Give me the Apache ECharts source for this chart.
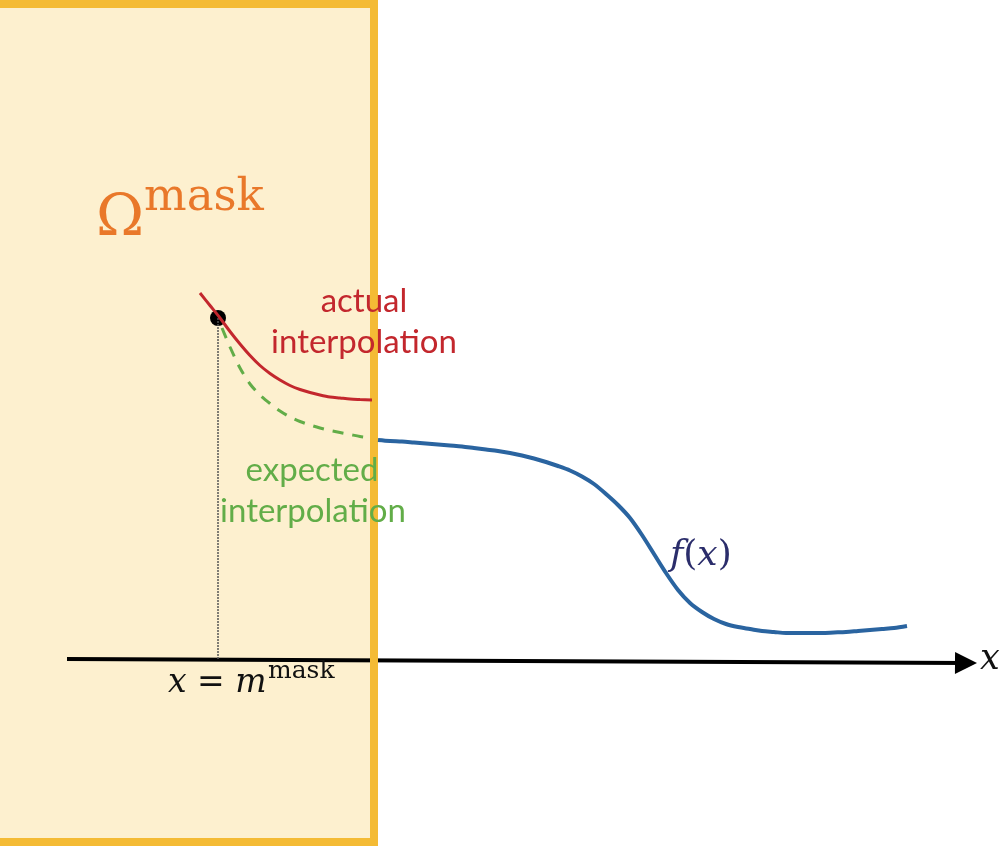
<!DOCTYPE html>
<html><head><meta charset="utf-8">
<script src="https://cdn.jsdelivr.net/npm/echarts@6/dist/echarts.min.js"></script>
<style>html,body{margin:0;padding:0;background:#fff}#c{width:1000px;height:846px}</style>
</head><body><div id="c"></div>
<script>
// Coordinates: x to the right, y measured downward (inverse axis), 0..1000 x 0..846
var maskX = [0, 374];
var maskY = [0, 846];
var maskBorder = [[-20, 4], [374, 4], [374, 842], [-20, 842]];
var fCurve = [[378,440],[390,441],[402,441.5],[414,442.5],[426,443.5],[438,444.5],[450,445.5],[462,446.5],[474,448],[486,449.5],[498,451],[510,453],[522,455.5],[534,458.5],[546,462],[558,466],[570,470.5],[582,476.5],[594,484],[606,494],[618,505],[630,518],[642,535],[654,554],[666,573],[678,590],[690,603],[702,612],[714,619],[726,624],[738,627],[750,629],[762,631],[774,632],[786,633],[798,633],[810,633],[822,633],[834,632.5],[846,632],[858,631],[870,630],[882,629],[894,628],[907,626]];
var actualCurve = [[200,293],[210,305.5],[220,318],[230,331.5],[240,344],[250,355.5],[260,365.5],[270,373.5],[280,380],[290,385.5],[300,389.5],[310,392.5],[320,395],[330,397],[340,398],[350,399],[360,399.5],[372,400]];
var expectedCurve = [[222,328],[230,347],[240,368],[250,384],[260,395],[270,403.5],[280,411],[290,417],[300,421.5],[310,425],[320,428],[330,430.5],[340,432.5],[350,434.5],[360,436.5],[372,438]];
var samplePoint = [[218,318]];
var sampleDrop = [[218,318],[218,659]];
var axisLine = [[67,659],[966,663]];

var chart = echarts.init(document.getElementById('c'));
chart.setOption({
  animation: false,
  grid: {left: 0, right: 0, top: 0, bottom: 0},
  xAxis: {type: 'value', min: 0, max: 1000, show: false},
  yAxis: {type: 'value', min: 0, max: 846, inverse: true, show: false},
  series: [
    {
      type: 'line', data: [], silent: true,
      markArea: {
        silent: true,
        itemStyle: {color: '#fdf0cf'},
        data: [[{coord: [maskX[0], maskY[0]]}, {coord: [maskX[1], maskY[1]]}]]
      }
    },
    {
      type: 'line', data: maskBorder, symbol: 'none', silent: true,
      lineStyle: {color: '#f4bb35', width: 8, join: 'miter'}
    },
    {
      type: 'line', data: sampleDrop, symbol: 'none', silent: true,
      lineStyle: {color: '#555', width: 1.5, type: [2, 1]}
    },
    {
      type: 'lines', coordinateSystem: 'cartesian2d', silent: true,
      symbol: ['none', 'triangle'], symbolSize: [22, 22],
      lineStyle: {color: '#000', width: 4, opacity: 1},
      data: [{coords: axisLine}]
    },
    {
      type: 'line', data: fCurve, smooth: 0.3, symbol: 'none', silent: true,
      lineStyle: {color: '#2a64a0', width: 4}
    },
    {
      type: 'line', data: actualCurve, smooth: 0.3, symbol: 'none', silent: true,
      lineStyle: {color: '#c3272d', width: 3}
    },
    {
      type: 'line', data: expectedCurve, smooth: 0.3, symbol: 'none', silent: true,
      lineStyle: {color: '#62ad48', width: 3, type: [11, 9]}
    },
    {
      type: 'scatter', data: samplePoint, symbolSize: 16, silent: true,
      itemStyle: {color: '#000', opacity: 1}
    }
  ],
  graphic: [
    {type: 'text', z: 100, x: 96, y: 220, style: {text: 'Ω', font: '58px "DejaVu Serif"', fill: '#e9782a', verticalAlign: 'middle'}},
    {type: 'text', z: 100, x: 144, y: 198, style: {text: 'mask', font: '45px "DejaVu Serif"', fill: '#e9782a', verticalAlign: 'middle'}},
    {type: 'text', z: 100, x: 364, y: 301, style: {text: 'actual', font: '33px Lato', fill: '#c3272d', align: 'center', verticalAlign: 'middle'}},
    {type: 'text', z: 100, x: 364, y: 342, style: {text: 'interpolation', font: '33px Lato', fill: '#c3272d', align: 'center', verticalAlign: 'middle'}},
    {type: 'text', z: 100, x: 312, y: 470, style: {text: 'expected', font: '33px Lato', fill: '#62ad48', align: 'center', verticalAlign: 'middle'}},
    {type: 'text', z: 100, x: 313, y: 511, style: {text: 'interpolation', font: '33px Lato', fill: '#62ad48', align: 'center', verticalAlign: 'middle'}},
    {type: 'text', z: 100, x: 168, y: 683, style: {text: 'x = m', font: 'italic 33px "DejaVu Serif"', fill: '#111', verticalAlign: 'middle'}},
    {type: 'text', z: 100, x: 268, y: 671, style: {text: 'mask', font: '25px "DejaVu Serif"', fill: '#111', verticalAlign: 'middle'}},
    {type: 'text', z: 100, x: 670, y: 556, style: {
      text: '{i|f}{n|(}{i|x}{n|)}', fill: '#2b2d6b', verticalAlign: 'middle',
      rich: {
        i: {font: 'italic 36px "DejaVu Serif"', fill: '#2b2d6b'},
        n: {font: '36px "DejaVu Serif"', fill: '#2b2d6b'}
      }
    }},
    {type: 'text', z: 100, x: 980, y: 660, style: {text: 'x', font: 'italic 35px "DejaVu Serif"', fill: '#111', verticalAlign: 'middle'}}
  ]
});
</script></body></html>
